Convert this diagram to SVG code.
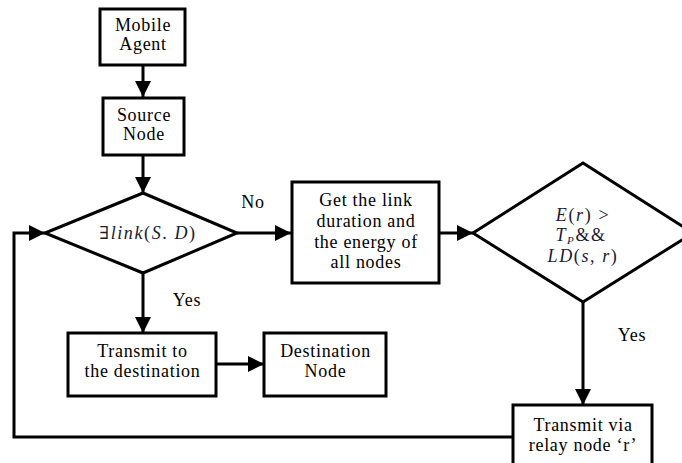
<svg xmlns="http://www.w3.org/2000/svg" width="682" height="463" viewBox="0 0 682 463">
<defs>
<style>
.box{fill:#fff;stroke:#000;stroke-width:3}
.ln{fill:none;stroke:#000;stroke-width:3}
text{font-family:'Liberation Serif','Times New Roman',Times,'DejaVu Serif',serif}
.t{font-size:18px;fill:#000;text-anchor:middle;letter-spacing:0.7px}
.m{font-size:18px;fill:#1a1a33;text-anchor:middle;letter-spacing:1.6px}
.i{font-style:italic}
</style>
<marker id="ah" markerWidth="16" markerHeight="16" refX="16" refY="8" orient="auto" markerUnits="userSpaceOnUse">
<path d="M0,0 L16,8 L0,16 Z" fill="#000"/>
</marker>
</defs>
<rect width="682" height="463" fill="#fff"/>
<g id="connectors">
<line class="ln" x1="143" y1="65" x2="143" y2="97" marker-end="url(#ah)"/>
<line class="ln" x1="143" y1="155" x2="143" y2="193" marker-end="url(#ah)"/>
<line class="ln" x1="237" y1="233" x2="291" y2="233" marker-end="url(#ah)"/>
<line class="ln" x1="439" y1="233" x2="473" y2="233" marker-end="url(#ah)"/>
<line class="ln" x1="143" y1="273" x2="143" y2="333" marker-end="url(#ah)"/>
<line class="ln" x1="216" y1="364" x2="264" y2="364" marker-end="url(#ah)"/>
<line class="ln" x1="583" y1="302" x2="583" y2="405" marker-end="url(#ah)"/>
<polyline class="ln" points="513,437 14,437 14,233 45,233" marker-end="url(#ah)"/>
<text class="t" x="253" y="208">No</text>
<text class="t" x="187" y="306">Yes</text>
<text class="t" x="632" y="341">Yes</text>
</g>
<g id="mobile-agent">
<rect class="box" x="100" y="9" width="85" height="56"/>
<text class="t" x="143" y="31">Mobile</text>
<text class="t" x="143" y="50">Agent</text>
</g>
<g id="source-node">
<rect class="box" x="103" y="98" width="81" height="57"/>
<text class="t" x="144" y="121">Source</text>
<text class="t" x="144" y="140">Node</text>
</g>
<g id="decision-link">
<polygon class="box" points="143,193 237,233 143,273 45,233"/>
<text class="m" x="148" y="239">∃<tspan class="i">link</tspan>(<tspan class="i">S</tspan>. <tspan class="i">D</tspan>)</text>
</g>
<g id="get-link">
<rect class="box" x="292" y="182" width="147" height="101"/>
<text class="t" x="366" y="206">Get the link</text>
<text class="t" x="366" y="227">duration and</text>
<text class="t" x="366" y="248">the energy of</text>
<text class="t" x="366" y="268">all nodes</text>
</g>
<g id="decision-energy">
<polygon class="box" points="583,163 693,233 583,302 473,233"/>
<text class="m" x="583" y="221"><tspan class="i">E</tspan>(<tspan class="i">r</tspan>) &gt;</text>
<text class="m" x="581" y="241"><tspan class="i">T</tspan><tspan class="i" font-size="11" dy="3">P</tspan><tspan dy="-3">&amp;&amp;</tspan></text>
<text class="m" x="583" y="262"><tspan class="i">LD</tspan>(<tspan class="i">s</tspan>, <tspan class="i">r</tspan>)</text>
</g>
<g id="transmit-destination">
<rect class="box" x="68" y="333" width="148" height="63"/>
<text class="t" x="142.5" y="357">Transmit to</text>
<text class="t" x="142.5" y="377">the destination</text>
</g>
<g id="destination-node">
<rect class="box" x="264" y="333" width="122" height="63"/>
<text class="t" x="325.5" y="357">Destination</text>
<text class="t" x="325.5" y="377">Node</text>
</g>
<g id="transmit-relay">
<rect class="box" x="513" y="405" width="139" height="70"/>
<text class="t" x="583" y="431">Transmit via</text>
<text class="t" x="583" y="451">relay node ‘r’</text>
</g>
</svg>
